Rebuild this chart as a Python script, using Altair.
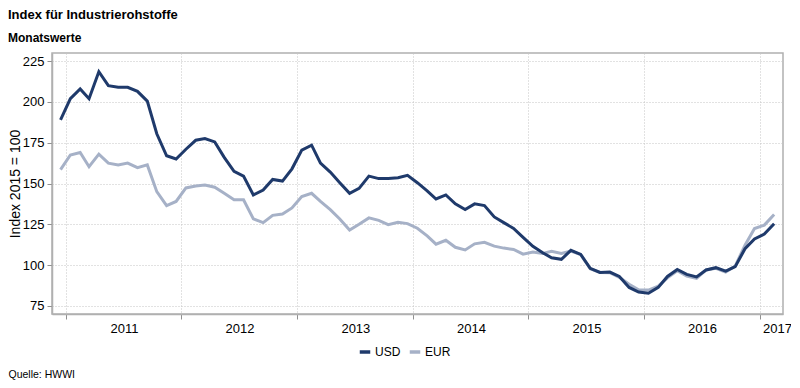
import altair as alt
import pandas as pd

# Monthly values, Dec 2010 .. Feb 2017 (index 2015 = 100)
start_year, start_month = 2010, 12
usd = [189, 202, 208, 202, 218.5, 210, 209, 209, 206.5, 200.5, 180.5, 167, 165,
       171, 176.5, 177.5, 175.5, 166, 157.5, 154.5, 143, 146, 152.5, 151.5, 159,
       170.5, 173.5, 162.5, 157, 150.5, 144, 147, 154.5, 153, 153, 153.5, 155,
       150.5, 145.5, 140.5, 143, 137.5, 134, 137.5, 136.5, 129.5, 126, 122.5, 117,
       111.5, 107.5, 104.5, 103.5, 109, 106.5, 98, 95.5, 95.7, 93, 86.3, 83.5,
       82.7, 86.3, 93, 97.3, 94.3, 92.7, 97, 98.4, 96.3, 99, 110, 116,
       119, 125.3]
eur = [158.5, 167.5, 169, 160.3, 168, 162.5, 161.3, 162.5, 159.7, 161.4, 145, 136.5, 139,
       147.3, 148.4, 149, 147.7, 144, 140, 140, 128.3, 126, 130.5, 131.3, 135,
       142, 144, 139, 134, 128.2, 121.5, 125, 128.9, 127.4, 124.8, 126.2, 125.4,
       122.6, 117.9, 112.8, 115.2, 110.9, 109.3, 113, 113.9, 111.6, 110.4, 109.6, 106.7,
       108, 107.1, 108.4, 107.1, 108.6, 106.5, 97.8, 95.5, 95.3, 92.5, 88.2, 84.9,
       84.7, 87.1, 92.2, 96.5, 93.3, 91.8, 97, 98, 95.7, 99.4, 112.2, 122.4,
       124.5, 131]
series = ["USD", "EUR"]
colors = ["#1f3a6b", "#a6b1c7"]
year_ticks = list(range(2011, 2018))
y_ticks = [75, 100, 125, 150, 175, 200, 225]

dates = []
for i in range(len(usd)):
    m = start_month - 1 + i
    dates.append(f"{start_year + m // 12}-{m % 12 + 1:02d}-15T00:00:00")

rows = []
for d, u, e in zip(dates, usd, eur):
    rows.append({"date": d, "value": u, "series": "USD"})
    rows.append({"date": d, "value": e, "series": "EUR"})
df = pd.DataFrame(rows)

FONT = "Liberation Sans"

x = alt.X(
    "date:T",
    scale=alt.Scale(domain=[alt.DateTime(year=2010, month=11, date=18),
                            alt.DateTime(year=2017, month=3, date=15)]),
    axis=alt.Axis(
        values=[alt.DateTime(year=y, month=1, date=1) for y in year_ticks],
        format="%Y",
        labelOffset={"condition": {"test": "year(datum.value) == 2017", "value": 17},
                     "value": 58},
        title="Quelle: HWWI",
        titleX=-44,
        titleY=63,
        titleAlign="left",
        titleAnchor="start",
        titleBaseline="alphabetic",
        titleFontSize=10.5,
        titleFontWeight="normal",
        titleColor="#000000",
    ),
)
y = alt.Y(
    "value:Q",
    scale=alt.Scale(domain=[70, 230], nice=False, zero=False),
    axis=alt.Axis(values=y_ticks, title="Index 2015 = 100", titlePadding=0,
                  titleFontSize=14),
)
color = alt.Color(
    "series:N",
    scale=alt.Scale(domain=series, range=colors),
    legend=alt.Legend(
        title=None, orient="none", legendX=306, legendY=292, direction="horizontal",
        symbolType="stroke", symbolSize=110, symbolStrokeWidth=3.5,
        labelFontSize=12, labelFont=FONT, labelColor="#000000", labelOffset=3,
        columnPadding=1, padding=0,
    ),
)

base = alt.Chart(df)
eur_line = base.transform_filter("datum.series == 'EUR'").mark_line(strokeWidth=3).encode(
    x=x, y=y, color=color)
usd_line = base.transform_filter("datum.series == 'USD'").mark_line(strokeWidth=3).encode(
    x=x, y=y, color=color)

chart = alt.layer(eur_line, usd_line).properties(
    width=731, height=261,
    autosize=alt.AutoSizeParams(type="none"),
    padding={"left": 44, "top": 45, "right": 8, "bottom": 72},
    title=alt.TitleParams(
        text="Index für Industrierohstoffe",
        subtitle="Monatswerte",
        anchor="start", frame="group", dx=-44, offset=9,
        font=FONT, fontSize=13, fontWeight="bold", color="#000000",
        subtitleFont=FONT, subtitleFontSize=12, subtitleFontWeight="bold",
        subtitleColor="#000000", subtitlePadding=11,
    ),
).configure_view(
    stroke="#b0b0b0", strokeWidth=1.5
).configure_axis(
    labelFont=FONT, labelFontSize=13, labelColor="#000000",
    titleFont=FONT, titleFontSize=13, titleFontWeight="normal", titleColor="#000000",
    domainColor="#b0b0b0", domainWidth=1.5, tickColor="#909090", tickSize=5,
    labelPadding=3, gridColor="#c4c4c4", gridDash=[1, 2], gridWidth=1,
)

chart.save("out.html", embed_options={"renderer": "svg", "actions": False})
